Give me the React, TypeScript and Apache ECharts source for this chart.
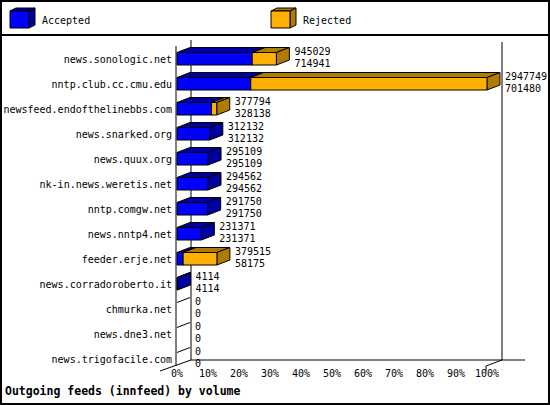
import React from 'react';
import * as echarts from 'echarts';

// outgoing innfeed feeds, bytes offered (total) and accepted
const HOSTS = [
  'news.sonologic.net',
  'nntp.club.cc.cmu.edu',
  'newsfeed.endofthelinebbs.com',
  'news.snarked.org',
  'news.quux.org',
  'nk-in.news.weretis.net',
  'nntp.comgw.net',
  'news.nntp4.net',
  'feeder.erje.net',
  'news.corradoroberto.it',
  'chmurka.net',
  'news.dne3.net',
  'news.trigofacile.com',
];
const OFFERED = [945029, 2947749, 377794, 312132, 295109, 294562, 291750, 231371, 379515, 4114, 0, 0, 0];
const ACCEPTED = [714941, 701480, 328138, 312132, 295109, 294562, 291750, 231371, 58175, 4114, 0, 0, 0];
const LEGEND = ['Accepted', 'Rejected'];
const TITLE = 'Outgoing feeds (innfeed) by volume';

const FONT = '"DejaVu Sans Mono", monospace';
const BLUE = '#0000ff';
const BLUE_DARK = '#0000a0';
const ORANGE = '#ffb000';
const ORANGE_DARK = '#b07c00';
const DX = 13;
const DY = 5;

const box = (x1: number, x2: number, yt: number, yb: number, front: string, dark: string) => {
  const line = { stroke: '#000', lineWidth: 1 };
  if (x2 - x1 < 0.3) {
    // empty feed: only the top edge shows
    return [{ type: 'line', shape: { x1, y1: yt, x2: x1 + DX, y2: yt - DY }, style: line }];
  }
  return [
    { type: 'polygon', shape: { points: [[x1, yt], [x1 + DX, yt - DY], [x2 + DX, yt - DY], [x2, yt]] }, style: { fill: dark, ...line } },
    { type: 'polygon', shape: { points: [[x2, yt], [x2 + DX, yt - DY], [x2 + DX, yb - DY], [x2, yb]] }, style: { fill: dark, ...line } },
    { type: 'polygon', shape: { points: [[x1, yt], [x2, yt], [x2, yb], [x1, yb]] }, style: { fill: front, ...line } },
  ];
};

const App = () => {
  const chartRef = React.useRef(null);

  React.useEffect(() => {
    document.body.style.margin = '0';
    const myChart = echarts.init(chartRef.current, null, { renderer: 'svg' });
    const max = Math.max(...OFFERED);
    const data = HOSTS.map((h, i) => [i, (ACCEPTED[i] / max) * 100, (OFFERED[i] / max) * 100, ACCEPTED[i], OFFERED[i]]);

    const wall = { stroke: '#000', lineWidth: 1 };
    myChart.setOption({
      animation: false,
      title: {
        text: TITLE,
        left: 0,
        top: 380,
        textStyle: { fontFamily: FONT, fontSize: 11.5, fontWeight: 'bold', color: '#000' },
      },
      grid: { left: 177, top: 46.5, width: 310, height: 325 },
      xAxis: {
        type: 'value',
        min: 0,
        max: 100,
        interval: 10,
        axisLine: { show: false },
        axisTick: { show: false },
        splitLine: { show: false },
        axisLabel: { formatter: (v: number) => v + '%', margin: -3, fontFamily: FONT, fontSize: 10, color: '#000' },
      },
      yAxis: {
        type: 'category',
        data: HOSTS,
        inverse: true,
        axisLine: { show: false },
        axisTick: { show: false },
        axisLabel: { margin: 5, fontFamily: FONT, fontSize: 10, color: '#000' },
      },
      graphic: [
        { type: 'rect', shape: { x: 1, y: 1, width: 548, height: 403 }, style: { fill: 'none', stroke: '#000', lineWidth: 2 } },
        { type: 'line', shape: { x1: 0, y1: 35, x2: 550, y2: 35 }, style: { stroke: '#000', lineWidth: 2 } },
        // legend cubes
        ...[
          [10, BLUE, BLUE_DARK, LEGEND[0]],
          [271, ORANGE, ORANGE_DARK, LEGEND[1]],
        ].flatMap(([x, c, d, t]: any) => [
          { type: 'polygon', shape: { points: [[x, 11], [x + 6, 8], [x + 25, 8], [x + 19, 11]] }, style: { fill: d, stroke: '#000' } },
          { type: 'polygon', shape: { points: [[x + 19, 11], [x + 25, 8], [x + 25, 25], [x + 19, 28]] }, style: { fill: d, stroke: '#000' } },
          { type: 'rect', shape: { x, y: 11, width: 19, height: 17 }, style: { fill: c, stroke: '#000' } },
          { type: 'text', x: x + 32, y: 20, style: { text: t, font: `10px ${FONT}`, fill: '#000', verticalAlign: 'middle' } },
        ]),
        // 3d frame
        { type: 'line', shape: { x1: 191, y1: 40, x2: 191, y2: 360 }, style: wall },
        { type: 'line', shape: { x1: 502, y1: 42, x2: 502, y2: 360 }, style: wall },
        { type: 'line', shape: { x1: 191, y1: 360, x2: 525, y2: 360 }, style: wall },
        { type: 'line', shape: { x1: 176, y1: 46, x2: 176, y2: 366 }, style: wall },
        { type: 'line', shape: { x1: 160, y1: 371, x2: 191, y2: 360 }, style: wall },
        { type: 'line', shape: { x1: 486, y1: 366, x2: 502, y2: 360 }, style: wall },
        { type: 'line', shape: { x1: 486, y1: 366, x2: 486, y2: 371 }, style: wall },
      ],
      series: [
        {
          type: 'custom',
          data,
          z: 10,
          renderItem: (params: any, api: any) => {
            const idx = api.value(0);
            const p0 = api.coord([0, idx]);
            const pa = api.coord([api.value(1), idx]);
            const po = api.coord([api.value(2), idx]);
            const h = api.size([0, 1])[1] * 0.5;
            const yt = p0[1] - h / 2 - 0.25;
            const yb = p0[1] + h / 2 - 0.25;
            const children: any[] = box(p0[0], pa[0], yt, yb, BLUE, BLUE_DARK);
            if (po[0] - pa[0] > 0.01) children.push(...box(pa[0], po[0], yt, yb, ORANGE, ORANGE_DARK));
            children.push({
              type: 'text',
              x: Math.max(pa[0], po[0]) + DX + 5,
              y: p0[1] - 2,
              style: {
                text: `${api.value(4)}\n${api.value(3)}`,
                font: `10px ${FONT}`,
                lineHeight: 12,
                fill: '#000',
                verticalAlign: 'middle',
              },
            });
            return { type: 'group', children };
          },
        },
      ],
    });

    return () => {
      myChart.dispose();
    };
  }, []);

  return <div ref={chartRef} style={{ width: '550px', height: '405px', background: '#fff' }} />;
};

export default App;
